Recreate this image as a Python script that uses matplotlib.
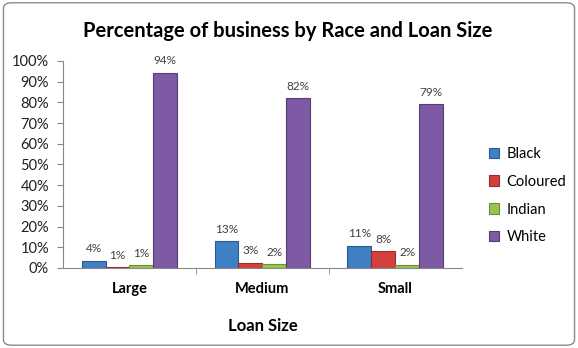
import matplotlib
matplotlib.use("Agg")
import matplotlib.pyplot as plt
from matplotlib.patches import FancyBboxPatch
import numpy as np

plt.rcParams['font.family'] = ['Lato', 'DejaVu Sans']

categories = ["Large", "Medium", "Small"]
series = ["Black", "Coloured", "Indian", "White"]
black = [3.6, 13.0, 10.8]
coloured = [0.6, 2.6, 8.0]
indian = [1.3, 1.7, 1.6]
white = [94.3, 82.0, 79.0]
yticks = [0, 10, 20, 30, 40, 50, 60, 70, 80, 90, 100]

values = [black, coloured, indian, white]
colors = ["#3F7FC4", "#D2413D", "#9BC34F", "#7D5AA3"]
edges = ["#2A5A8E", "#9A2E2B", "#6E8E36", "#553D75"]

fig = plt.figure(figsize=(5.78, 3.48), dpi=100)
ax = fig.add_axes([0.109, 0.23, 0.690, 0.595])

x = np.arange(len(categories))
w = 0.18
for i, (name, vals) in enumerate(zip(series, values)):
    pos = x + (i - 1.5) * w
    bars = ax.bar(pos, vals, width=w, color=colors[i], edgecolor=edges[i], linewidth=0.8, label=name)
    for b, v in zip(bars, vals):
        ax.text(b.get_x() + b.get_width() / 2, v + 3, f"{round(v):.0f}%", ha="center", va="bottom",
                fontsize=8.5, color="#404040")

ax.set_xlim(-0.5, 2.5)
ax.set_ylim(0, 100)
ax.set_yticks(yticks)
ax.set_yticklabels([f"{t}%" for t in yticks], fontsize=10.5, color="#202020")
ax.set_xticks(x)
ax.set_xticklabels(categories, fontsize=10.5, fontweight="bold")
ax.set_xticks([0.5, 1.5], minor=True)
ax.tick_params(axis="x", which="major", length=0, pad=10)
ax.tick_params(axis="x", which="minor", length=4, color="#888888")
ax.tick_params(axis="y", length=4, color="#888888", pad=6)
for s in ["top", "right"]:
    ax.spines[s].set_visible(False)
ax.spines["left"].set_color("#888888")
ax.spines["bottom"].set_color("#888888")
ax.set_xlabel("Loan Size", fontsize=12, fontweight="bold", labelpad=16)

fig.text(0.497, 0.91, "Percentage of business by Race and Loan Size", ha="center", va="center",
         fontsize=14.5, fontweight="bold")

leg = ax.legend(loc="center left", frameon=False,
                fontsize=10.5, handlelength=0.7, handleheight=0.7, labelspacing=0.95,
                handletextpad=0.5)
leg.set_bbox_to_anchor((0.823, 0.438), transform=fig.transFigure)

border = FancyBboxPatch((0.006, 0.008), 0.988, 0.984, boxstyle="round,pad=0,rounding_size=0.015",
                        transform=fig.transFigure, facecolor="none", edgecolor="#8C8C8C", linewidth=1.0)
fig.patches.append(border)

fig.savefig("out.png", dpi=100)
